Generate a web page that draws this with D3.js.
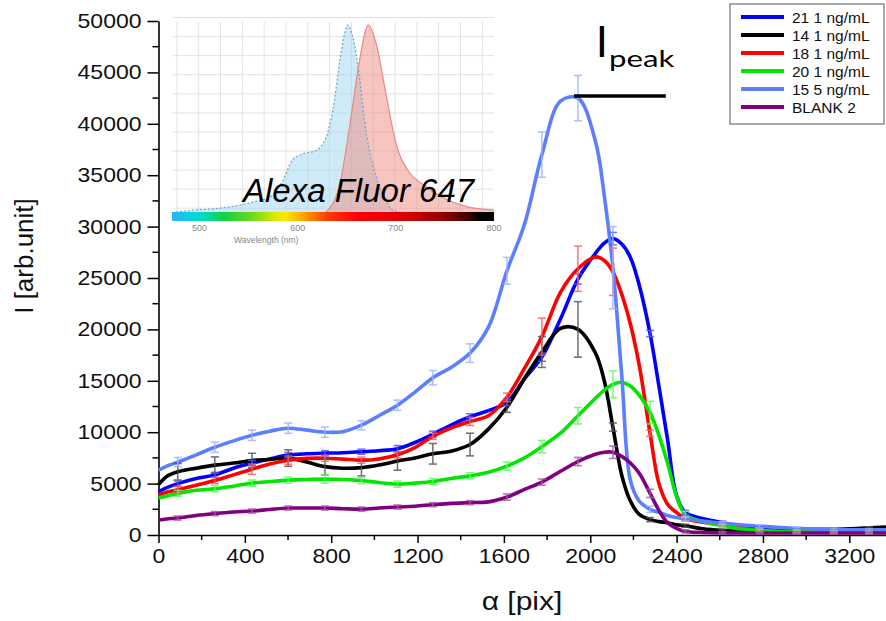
<!DOCTYPE html>
<html>
<head>
<meta charset="utf-8">
<script src="https://cdn.jsdelivr.net/npm/d3@7"></script>
<style>
  body { margin: 0; background: #fff; }
  svg { display: block; font-family: "Liberation Sans", Arial, sans-serif; }
</style>
</head>
<body>
<svg id="chart" width="886" height="621"></svg>
<script>
// sample positions along the profile (pix)
const alpha = [0, 38, 89, 175, 261, 347, 433, 515, 601, 687, 771, 854, 940, 1021, 1107, 1188, 1271, 1355, 1443, 1528,
  1614, 1695, 1776, 1862, 1943, 2024, 2065, 2105, 2146, 2186, 2227, 2277, 2318, 2358, 2399, 2440, 2521, 2612, 2693, 2784,
  2865, 2956, 3037, 3128, 3210, 3291, 3370];

const s21 = [4200, 4600, 5000, 5500, 5850, 6500, 7000, 7400, 7770, 7900, 7960, 8000, 8100, 8200, 8400, 9000, 9800, 10700, 11500, 12100,
  12900, 15200, 17300, 21000, 24900, 27400, 28400, 28830, 28300, 27000, 24300, 19600, 14500, 9300, 3900, 2200, 1600, 1200, 900, 700,
  600, 580, 560, 550, 550, 550, 550];
const s14 = [4900, 5700, 6150, 6500, 6800, 7000, 7250, 7350, 7480, 7090, 6650, 6500, 6550, 6800, 7200, 7500, 7900, 8150, 8800, 10300,
  12430, 15200, 17800, 20100, 20000, 17700, 15000, 10500, 5800, 3300, 2000, 1500, 1300, 1200, 1000, 900, 600, 450, 400, 380,
  380, 400, 420, 500, 600, 700, 780];
const s18 = [3880, 4150, 4400, 4850, 5300, 5850, 6400, 6900, 7280, 7450, 7470, 7380, 7280, 7400, 7800, 8500, 9600, 10400, 11050, 11600,
  13400, 16200, 19300, 23600, 25900, 27050, 26700, 25600, 23400, 20500, 16500, 9900, 5000, 3000, 2200, 1600, 1250, 980, 700, 450,
  350, 300, 280, 260, 250, 250, 250];
const s20 = [3590, 3800, 4050, 4350, 4500, 4750, 5050, 5200, 5340, 5400, 5440, 5400, 5300, 5100, 4950, 5050, 5200, 5500, 5750, 6100,
  6700, 7500, 8600, 9900, 11600, 13300, 14100, 14650, 14850, 14500, 13600, 11900, 9700, 7000, 3800, 2000, 1300, 900, 600, 450,
  350, 300, 280, 260, 250, 250, 250];
const s15 = [6300, 6700, 7090, 7800, 8540, 9150, 9700, 10100, 10390, 10200, 10000, 10050, 10680, 11600, 12620, 13900, 15300, 16300, 17700, 20200,
  25700, 30200, 37000, 42200, 42500, 38300, 33000, 26000, 15500, 5300, 3300, 2500, 2200, 1900, 1700, 1550, 1350, 1150, 1000, 850,
  750, 650, 600, 550, 500, 500, 500];
const sBlank = [1460, 1560, 1650, 1900, 2080, 2230, 2330, 2480, 2620, 2630, 2620, 2560, 2520, 2620, 2720, 2800, 2950, 3080, 3150, 3220,
  3690, 4430, 5150, 6200, 7150, 7850, 8050, 8050, 7650, 7000, 6000, 4050, 2400, 1200, 650, 350, 250, 200, 200, 200,
  200, 200, 200, 200, 200, 200, 200];

// error bars (half widths) at these positions
const errAlpha = [89, 261, 433, 601, 771, 940, 1107, 1271, 1443, 1614, 1776, 1943, 2105, 2277, 2440, 2612, 2784, 2956, 3128, 3291];
const e21 = [250, 250, 250, 250, 250, 250, 300, 300, 300, 300, 400, 500, 600, 300, 200, 150, 100, 100, 100, 100];
const e14 = [800, 800, 700, 800, 800, 800, 900, 1000, 1100, 500, 1500, 2700, 400, 200, 150, 100, 100, 100, 100, 100];
const e18 = [300, 300, 500, 400, 300, 300, 300, 300, 400, 400, 1800, 2200, 2300, 300, 200, 150, 100, 100, 100, 100];
const e20 = [300, 300, 300, 300, 400, 300, 300, 300, 300, 400, 600, 800, 1300, 1100, 300, 150, 100, 100, 100, 100];
const e15 = [450, 500, 500, 500, 500, 450, 500, 700, 900, 1300, 2200, 2200, 4000, 300, 200, 150, 150, 100, 100, 100];
const eBlank = [200, 200, 200, 200, 200, 200, 200, 200, 200, 300, 300, 400, 600, 400, 150, 100, 100, 100, 100, 100];

const seriesNames = ["21 1 ng/mL", "14 1 ng/mL", "18 1 ng/mL", "20 1 ng/mL", "15 5 ng/mL", "BLANK 2"];
const seriesValues = [s21, s14, s18, s20, s15, sBlank];
const seriesErrors = [e21, e14, e18, e20, e15, eBlank];
const seriesColors = ["#0000ff", "#000000", "#ff0000", "#00e600", "#5b7fff", "#800080"];
const errColors = ["#5555ff", "#555555", "#ff5a5a", "#55ff55", "#9fb2ff", "#a85aa8"];

const xMajor = [0, 400, 800, 1200, 1600, 2000, 2400, 2800, 3200];
const xMinor = [200, 600, 1000, 1400, 1800, 2200, 2600, 3000];
const yMajor = [0, 5000, 10000, 15000, 20000, 25000, 30000, 35000, 40000, 45000, 50000];
const yMinor = [2500, 7500, 12500, 17500, 22500, 27500, 32500, 37500, 42500, 47500];

// peak marker: from 15 5 ng/mL max to this position
const peakEnd = 2350;

// inset: Alexa Fluor 647 spectra
const absWl = [476, 494, 520, 544, 560, 572, 585, 595, 605, 619, 629, 636, 643, 648, 651, 656, 663, 668, 673, 680, 690, 697, 705];
const absVal = [0, 0.01, 0.02, 0.04, 0.06, 0.08, 0.17, 0.28, 0.31, 0.33, 0.40, 0.55, 0.81, 0.96, 1.0, 0.94, 0.72, 0.49, 0.33, 0.19, 0.06, 0.01, 0];
const emWl = [629, 643, 653, 663, 672, 680, 690, 700, 714, 727, 747, 771, 800];
const emVal = [0, 0.15, 0.46, 0.81, 1.0, 0.90, 0.63, 0.37, 0.21, 0.15, 0.08, 0.03, 0.01];
const wlTicks = [500, 600, 700, 800];
const barStops = [[472, "#2cb5f2"], [500, "#00dcd4"], [525, "#12d040"], [550, "#5fd820"], [575, "#d2e800"], [588, "#ffe600"],
  [607, "#ff9c00"], [630, "#ff3a00"], [660, "#ff0000"], [710, "#dc0000"], [750, "#8c0000"], [775, "#3a0000"], [785, "#000000"], [800, "#000000"]];

const svg = d3.select("#chart");

const x = d3.scaleLinear().domain([0, 3370]).range([158.5, 886]);
const y = d3.scaleLinear().domain([0, 50000]).range([535, 21]);

// ---- inset ----
const ix = d3.scaleLinear().domain([472, 800]).range([172, 494]);
const iy = d3.scaleLinear().domain([0, 1]).range([212, 25]);
const inset = svg.append("g").attr("class", "inset");

const gridWl = d3.range(477, 800, 200 / 9);
inset.selectAll("line.vg").data(gridWl).join("line")
  .attr("x1", d => ix(d)).attr("x2", d => ix(d))
  .attr("y1", 22).attr("y2", 212)
  .attr("stroke", "#e3e3e3").attr("stroke-width", 1);
const gridV = d3.range(0.02, 1.1, 0.102);
inset.selectAll("line.hg").data(gridV).join("line")
  .attr("x1", 172).attr("x2", 494)
  .attr("y1", d => iy(d)).attr("y2", d => iy(d))
  .attr("stroke", "#e3e3e3").attr("stroke-width", 1);

const absPts = absWl.map((w, i) => [w, absVal[i]]);
const emPts = emWl.map((w, i) => [w, emVal[i]]);
const iArea = d3.area().x(d => ix(d[0])).y0(iy(0)).y1(d => iy(d[1])).curve(d3.curveMonotoneX);
const iLine = d3.line().x(d => ix(d[0])).y(d => iy(d[1])).curve(d3.curveMonotoneX);

inset.append("path").attr("d", iArea(absPts)).attr("fill", "#9fd6f0").attr("opacity", 0.5);
inset.append("path").attr("d", iArea(emPts)).attr("fill", "#f08c80").attr("opacity", 0.5);
inset.append("path").attr("d", iLine(absPts)).attr("fill", "none")
  .attr("stroke", "#6aa7c4").attr("stroke-width", 1.2).attr("stroke-dasharray", "2,2");
inset.append("path").attr("d", iLine(emPts)).attr("fill", "none")
  .attr("stroke", "#e58a84").attr("stroke-width", 1.2);

const grad = svg.append("defs").append("linearGradient").attr("id", "wlbar")
  .attr("x1", "0%").attr("x2", "100%").attr("y1", "0%").attr("y2", "0%");
grad.selectAll("stop").data(barStops).join("stop")
  .attr("offset", d => ((d[0] - 472) / (800 - 472) * 100) + "%")
  .attr("stop-color", d => d[1]);
inset.append("rect").attr("x", ix(472)).attr("y", 212)
  .attr("width", ix(800) - ix(472)).attr("height", 9)
  .attr("fill", "url(#wlbar)");

inset.selectAll("text.wl").data(wlTicks).join("text")
  .attr("x", d => ix(d)).attr("y", 231)
  .attr("text-anchor", "middle").attr("font-size", 9).attr("fill", "#888")
  .text(d => d);
inset.append("text").attr("x", ix(568)).attr("y", 243)
  .attr("text-anchor", "middle").attr("font-size", 8.5).attr("fill", "#888")
  .text("Wavelength (nm)");
inset.append("text").attr("x", 243).attr("y", 202)
  .attr("font-size", 33).attr("font-style", "italic").attr("fill", "#000")
  .text("Alexa Fluor 647");

// ---- axes ----
const gx = svg.append("g").attr("transform", `translate(0,${y(0)})`)
  .call(d3.axisBottom(x).tickValues(xMajor).tickFormat(d3.format("d"))
    .tickSize(8).tickSizeOuter(0).tickPadding(6));
gx.append("g").selectAll("line").data(xMinor).join("line")
  .attr("x1", d => x(d)).attr("x2", d => x(d)).attr("y1", 0).attr("y2", 5)
  .attr("stroke", "#000").attr("stroke-width", 1.5);
gx.selectAll(".tick text").attr("font-size", 20).attr("fill", "#111")
  .attr("transform", "scale(1.15,1)");

const gy = svg.append("g").attr("transform", `translate(${x(0)},0)`)
  .call(d3.axisLeft(y).tickValues(yMajor).tickFormat(d3.format("d"))
    .tickSize(11).tickSizeOuter(0).tickPadding(6));
gy.append("g").selectAll("line").data(yMinor).join("line")
  .attr("y1", d => y(d)).attr("y2", d => y(d)).attr("x1", 0).attr("x2", -6)
  .attr("stroke", "#000").attr("stroke-width", 1.5);
gy.selectAll(".tick text").attr("font-size", 20).attr("fill", "#111")
  .attr("x", -17 / 1.15).attr("transform", "scale(1.15,1)");

svg.selectAll(".domain").attr("stroke-width", 1.6);
svg.selectAll(".tick line").attr("stroke-width", 1.5);

svg.append("text").attr("transform", "translate(33,256) rotate(-90)")
  .attr("text-anchor", "middle").attr("font-size", 26).attr("fill", "#111")
  .text("I [arb.unit]");
svg.append("text").attr("transform", "translate(522,610) scale(1.2,1)")
  .attr("text-anchor", "middle").attr("font-size", 25).attr("fill", "#111")
  .text("α [pix]");

// ---- curves ----
const line = d3.line().x(d => x(d[0])).y(d => y(d[1])).curve(d3.curveCatmullRom.alpha(0.5));
seriesValues.forEach((vals, k) => {
  svg.append("path")
    .attr("d", line(alpha.map((a, i) => [a, vals[i]])))
    .attr("fill", "none").attr("stroke", seriesColors[k])
    .attr("stroke-width", 3.6).attr("stroke-linejoin", "round");
});

seriesErrors.forEach((errs, k) => {
  const vals = seriesValues[k];
  const g = svg.append("g").attr("stroke", errColors[k]).attr("stroke-width", 1.5).attr("opacity", 0.85);
  errAlpha.forEach((a, j) => {
    const c = vals[alpha.indexOf(a)];
    const px = x(a), top = y(c + errs[j]), bot = y(c - errs[j]);
    g.append("line").attr("x1", px).attr("x2", px).attr("y1", top).attr("y2", bot);
    g.append("line").attr("x1", px - 4).attr("x2", px + 4).attr("y1", top).attr("y2", top);
    g.append("line").attr("x1", px - 4).attr("x2", px + 4).attr("y1", bot).attr("y2", bot);
  });
});

// ---- I_peak marker ----
const peakIdx = s15.indexOf(d3.max(s15));
svg.append("line")
  .attr("x1", x(alpha[peakIdx]) - 4).attr("x2", x(peakEnd))
  .attr("y1", y(42700)).attr("y2", y(42700))
  .attr("stroke", "#000").attr("stroke-width", 3.5);
svg.append("text").attr("x", 596).attr("y", 57)
  .attr("font-family", "Lato, 'Liberation Sans', sans-serif").attr("font-size", 42).text("I");
svg.append("text").attr("transform", "translate(609,67) scale(1.3,1)")
  .attr("font-family", "Lato, 'Liberation Sans', sans-serif").attr("font-size", 24).text("peak");

// ---- legend ----
const leg = svg.append("g").attr("transform", "translate(730,4)");
leg.append("rect").attr("width", 154).attr("height", 120)
  .attr("fill", "#fff").attr("stroke", "#555").attr("stroke-width", 1);
seriesNames.forEach((name, i) => {
  const yy = 13 + i * 18;
  leg.append("line").attr("x1", 11).attr("x2", 54).attr("y1", yy).attr("y2", yy)
    .attr("stroke", seriesColors[i]).attr("stroke-width", 4);
  leg.append("text").attr("x", 62).attr("y", yy + 5.5)
    .attr("font-size", 15.5).attr("fill", "#111").text(name);
});
</script>
</body>
</html>
